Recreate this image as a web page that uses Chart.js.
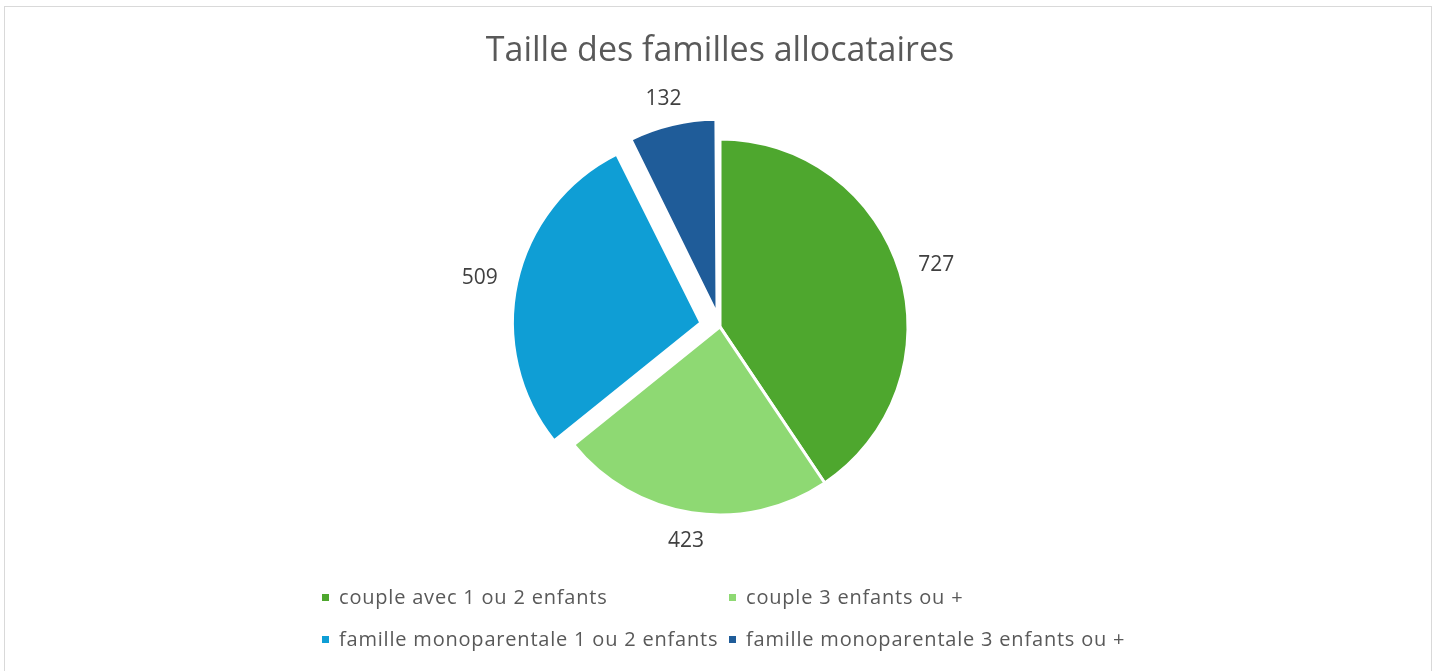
<!DOCTYPE html>
<html>
<head>
<meta charset="utf-8">
<script src="https://cdn.jsdelivr.net/npm/chart.js@4/dist/chart.umd.min.js"></script>
<style>
  html, body { margin: 0; padding: 0; background: #ffffff; }
  body { width: 1442px; height: 671px; overflow: hidden; position: relative; }
  #frame { position: absolute; left: 4px; top: 6px; width: 1428px; height: 700px; border: 1.5px solid #d9d9d9; box-sizing: border-box; }
  #wrap { position: absolute; left: 0; top: 0; width: 1442px; height: 671px; }
</style>
</head>
<body>
<div id="frame"></div>
<div id="wrap"><canvas id="c" width="1442" height="671"></canvas></div>
<script>
const chartTitle = "Taille des familles allocataires";
const categories = [
  "couple avec 1 ou 2 enfants",
  "couple 3 enfants ou +",
  "famille monoparentale 1 ou 2 enfants",
  "famille monoparentale 3 enfants ou +"
];
const values = [727, 423, 509, 132];
const sliceColors = ["#4EA72E", "#8ED973", "#0F9ED5", "#1F5C99"];
const exploded = [false, false, true, true];
const EXPLODE_PX = 20;

const FONT = "'Open Sans', 'Liberation Sans', sans-serif";

// Chart.js ArcElement moves a slice by offset/4 * (1 + (1 - sin(circ))).
function fixOf(circ) { return 1 - Math.sin(Math.min(Math.PI, circ || 0)); }
function sliceCirc(i) {
  const total = values.reduce((a, b) => a + b, 0);
  return values[i] / total * Math.PI * 2;
}
function offsetOption(ctx) {
  const i = ctx.dataIndex;
  if (!exploded[i]) return 0;
  return EXPLODE_PX * 4 / (1 + fixOf(sliceCirc(i)));
}

const labelPlugin = {
  id: 'outLabels',
  afterDatasetsDraw(chart) {
    const ctx = chart.ctx;
    const meta = chart.getDatasetMeta(0);
    ctx.save();
    ctx.font = "21px " + FONT;
    ctx.fillStyle = "#404040";
    ctx.textAlign = "center";
    ctx.textBaseline = "middle";
    meta.data.forEach((arc, i) => {
      const p = arc.getProps(['x', 'y', 'startAngle', 'endAngle', 'outerRadius'], true);
      const mid = (p.startAngle + p.endAngle) / 2;
      const dx = Math.cos(mid), dy = Math.sin(mid);
      const off = exploded[i] ? EXPLODE_PX : 0;
      const txt = String(values[i]);
      const w = ctx.measureText(txt).width;
      const h = 15;
      const r = p.outerRadius + off + 20;
      const x = p.x + dx * r + dx * w / 2;
      const y = p.y + dy * r + dy * h / 2;
      ctx.fillText(txt, x, y + 1);
    });
    ctx.restore();
  }
};

const legendPlugin = {
  id: 'gridLegend',
  afterDraw(chart) {
    const ctx = chart.ctx;
    ctx.save();
    ctx.font = "20px " + FONT;
    try { ctx.letterSpacing = "0.8px"; } catch (e) {}
    ctx.textBaseline = "middle";
    const colX = [322, 729];
    const rowY = [598, 640];
    categories.forEach((name, i) => {
      const cx = colX[i % 2], cy = rowY[Math.floor(i / 2)];
      ctx.fillStyle = sliceColors[i];
      ctx.fillRect(cx, cy - 4, 7, 7);
      ctx.fillStyle = "#595959";
      ctx.fillText(name, cx + 17, cy);
    });
    ctx.restore();
  }
};

new Chart(document.getElementById('c'), {
  type: 'pie',
  data: {
    labels: categories,
    datasets: [{
      data: values,
      backgroundColor: sliceColors,
      borderColor: '#ffffff',
      borderWidth: 3,
      offset: offsetOption,
      hoverOffset: 0
    }]
  },
  options: {
    responsive: false,
    animation: false,
    radius: 188,
    layout: { padding: { top: 0, bottom: 144, left: 470, right: 472 } },
    plugins: {
      legend: { display: false },
      tooltip: { enabled: false },
      title: {
        display: true,
        text: chartTitle,
        color: '#595959',
        font: { family: FONT, size: 34, weight: 'normal', lineHeight: 1.2 },
        padding: { top: 31, bottom: 55 }
      }
    }
  },
  plugins: [labelPlugin, legendPlugin]
});
</script>
</body>
</html>
